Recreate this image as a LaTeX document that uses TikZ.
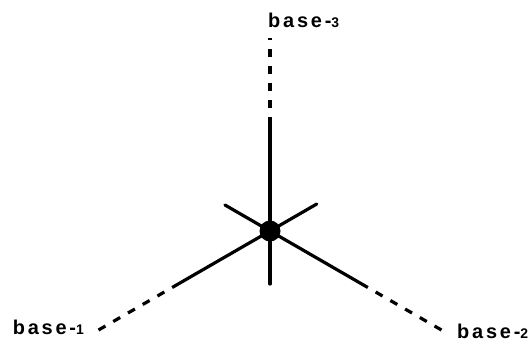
\documentclass[tikz,border=0pt]{standalone}
\usepackage{fontspec}
\newfontfamily\lblfont[LetterSpace=14]{Liberation Sans}
\usepackage{tikz}
\usetikzlibrary{positioning}

\newcommand{\sdig}[1]{{\fontsize{14}{14}\selectfont #1}}

\begin{document}
\begin{tikzpicture}[x=1bp, y=1bp,
    arm/.style={line width=3.2bp, line cap=round},
    farm/.style={line width=3.2bp, dash pattern=on 8bp off 9bp},
    hubdot/.style={circle, fill=black, inner sep=0pt, minimum size=21bp},
    lab/.style={font=\lblfont\fontsize{20}{22}\selectfont\bfseries, inner sep=0pt}]
  \useasboundingbox (-270,-110) rectangle (258,231);
  % hub
  \node[hubdot] (hub) at (0,0) {};
  % arm ends
  \coordinate (s1) at (210:105);
  \coordinate (e1) at (210:198);
  \coordinate (s2) at (330:105);
  \coordinate (e2) at (330:198);
  \coordinate (s3) at (90:106);
  \coordinate (e3) at (90:193);
  % short spokes
  \coordinate (k1) at (30:54);
  \coordinate (k2) at (150:52);
  \coordinate (k3) at (270:53);
  % labels
  \node[lab, anchor=east]       (b1) at (-186,-96) {base-\sdig{1}};
  \node[lab, anchor=west]       (b2) at (187,-100) {base-\sdig{2}};
  \node[lab, anchor=south west] (b3) at (-2,203)   {base-\sdig{3}};

  \draw[arm] (hub.center) -- (s1);
  \draw[arm] (hub.center) -- (s2);
  \draw[arm] (hub.center) -- (s3);
  \draw[farm] (s1) -- (e1);
  \draw[farm] (s2) -- (e2);
  \draw[farm] (s3) -- (e3);
  \draw[arm] (hub.center) -- (k1);
  \draw[arm] (hub.center) -- (k2);
  \draw[arm] (hub.center) -- (k3);
\end{tikzpicture}
\end{document}
